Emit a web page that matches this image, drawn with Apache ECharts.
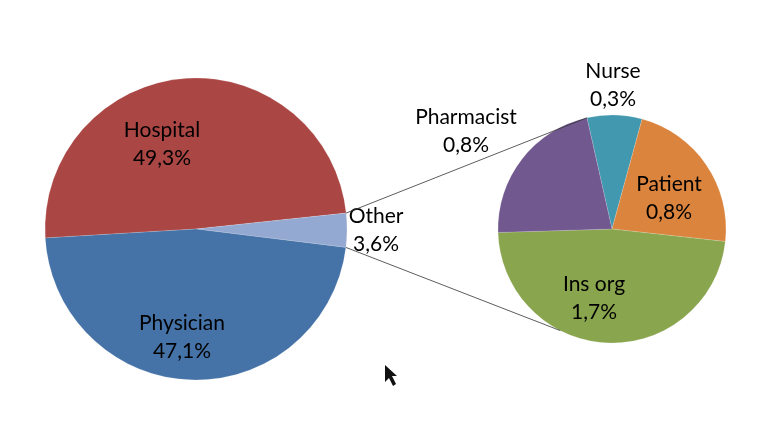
<!DOCTYPE html>
<html>
<head>
<meta charset="utf-8">
<style>
  html, body { margin: 0; padding: 0; background: #fff; }
  #chart { width: 769px; height: 445px; }
</style>
<script src="https://cdn.jsdelivr.net/npm/echarts@6/dist/echarts.min.js"></script>
</head>
<body>
<div id="chart"></div>
<script>
const mainNames = ['Hospital', 'Other', 'Physician']
const mainValues = [49.26, 3.63, 47.11]
const mainColors = ['#aa4644', '#94a9d1', '#4572a7']
const mainLabelSpots = [[162, 144], [376, 230], [182, 337]]

const subNames = ['Nurse', 'Patient', 'Ins org', 'Pharmacist']
const subValues = [0.28, 0.81, 1.72, 0.79]
const subColors = ['#4198af', '#db843d', '#89a54e', '#71588f']
const subLabelSpots = [[613, 85], [669, 198], [594, 298], [466, 131]]

const mainCenter = [196, 229]
const mainRadius = 151
const mainStart = 183.4
const subCenter = [612, 229]
const subRadius = 114
const subStart = 102.7
const lowerLinkAngle = -117

const total = arr => arr.reduce((a, b) => a + b, 0)
const pointAt = (center, r, deg) => [
  center[0] + r * Math.cos(deg * Math.PI / 180),
  center[1] - r * Math.sin(deg * Math.PI / 180)
]

// edges of the Other slice, the connectors start from them
const otherTop = mainStart - mainValues[0] / total(mainValues) * 360
const otherBottom = otherTop - mainValues[1] / total(mainValues) * 360

const linkLine = (from, to) => ({
  type: 'line',
  z: 10,
  shape: { x1: from[0], y1: from[1], x2: to[0], y2: to[1] },
  style: { stroke: '#333', lineWidth: 0.8 }
})

const pieSeries = (names, values, colors, spots, center, radius, start) => ({
  type: 'pie',
  center,
  radius,
  startAngle: start,
  clockwise: true,
  animation: false,
  silent: true,
  avoidLabelOverlap: false,
  data: names.map((name, i) => ({
    name,
    value: values[i],
    itemStyle: { color: colors[i] }
  })),
  itemStyle: { borderColor: 'rgba(255,255,255,0.3)', borderWidth: 0.5 },
  label: {
    position: 'inside',
    formatter: p => `${p.name}\n${p.value.toFixed(1).replace('.', ',')}%`,
    fontFamily: 'Lato',
    fontSize: 21,
    lineHeight: 28,
    color: '#000',
    align: 'center'
  },
  labelLine: { show: false },
  labelLayout: p => ({
    x: spots[p.dataIndex][0],
    y: spots[p.dataIndex][1],
    align: 'center',
    verticalAlign: 'middle'
  })
})

const chart = echarts.init(document.getElementById('chart'))
chart.setOption({
  backgroundColor: '#fff',
  series: [
    pieSeries(mainNames, mainValues, mainColors, mainLabelSpots, mainCenter, mainRadius, mainStart),
    pieSeries(subNames, subValues, subColors, subLabelSpots, subCenter, subRadius, subStart)
  ],
  graphic: [
    linkLine(pointAt(mainCenter, mainRadius, otherTop), pointAt(subCenter, subRadius, subStart)),
    linkLine(pointAt(mainCenter, mainRadius, otherBottom), pointAt(subCenter, subRadius, lowerLinkAngle)),
    // mouse pointer caught in the screenshot
    {
      type: 'polygon',
      z: 10,
      shape: { points: [[385, 365], [385, 382], [389, 378], [393, 386], [396, 384], [392, 376], [397, 376]] },
      style: { fill: '#111' }
    }
  ]
})
</script>
</body>
</html>
